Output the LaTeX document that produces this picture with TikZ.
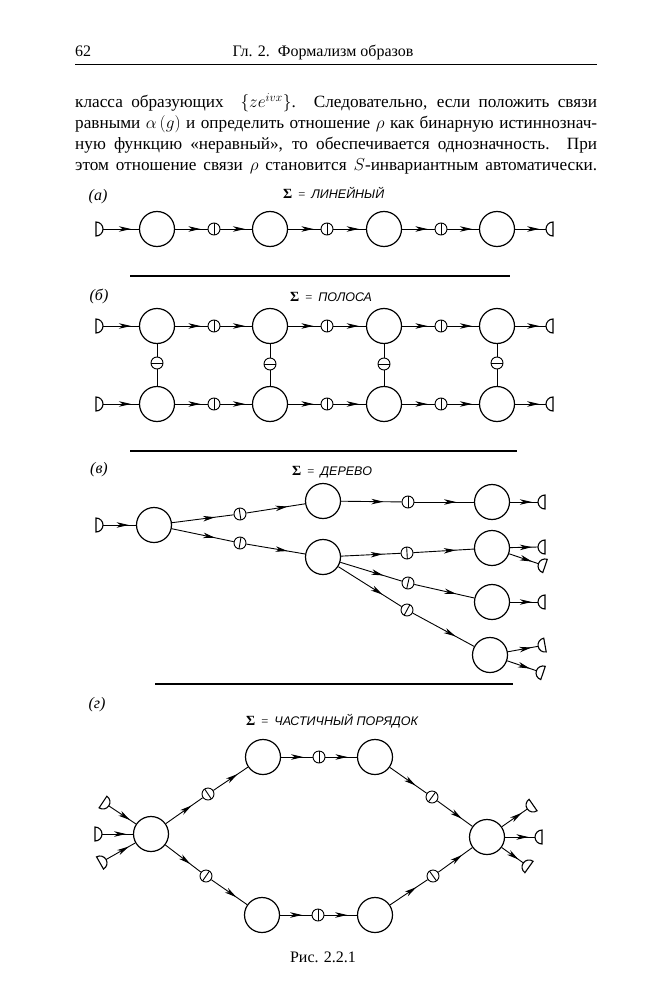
\documentclass[tikz,border=0pt]{standalone}
\usepackage{fontspec}
\setmainfont{Liberation Serif}
\newfontfamily\lblfont{Liberation Sans}
\usetikzlibrary{arrows.meta,decorations.markings,calc}
\tikzset{
  big/.style={circle,draw,line width=1.2pt,minimum size=35pt,inner sep=0pt},
  lk/.style={circle,draw,line width=0.9pt,minimum size=12pt,inner sep=0pt},
  conn/.style={line width=0.9pt,postaction={decorate},decoration={markings,mark=at position #1 with {\arrow{Stealth[length=12pt,width=5.5pt,inset=3.5pt]}}}},
  conn/.default=0.78,
  bond/.style={line width=0.9pt},
  capd/.style={line width=1.1pt},
  sep/.style={line width=1.6pt},
  body/.style={anchor=base west,inner sep=0pt,font=\fontsize{17.2}{20}\selectfont},
  hdr/.style={anchor=base,inner sep=0pt,font=\fontsize{16}{18}\selectfont},
  tag/.style={inner sep=0pt,font=\fontsize{16}{18}\selectfont\itshape},
  sig/.style={anchor=base west,inner sep=0pt,font=\fontsize{12.5}{14}\selectfont},
}
\newcommand\capD[3]{\coordinate (#1) at (#2);
  \draw[capd,shift={(#2)},rotate={-1*(#3)}] (-7,7) arc[start angle=90,end angle=-90,radius=7] -- cycle;}
\newcommand\lnk[3]{\node[lk] (#1) at (#2) {};
  \draw[bond] ($(#1)!6pt!90:(#3)$) -- ($(#1)!6pt!-90:(#3)$);}
\newcommand\sigl[1]{{\fontsize{14}{14}\selectfont\textbf{Σ}}\hspace{6pt}=\hspace{6pt}{\lblfont\itshape #1}}
\begin{document}
\begin{tikzpicture}[x=1pt,y=-1pt]
\useasboundingbox (0,0) rectangle (656,1000);
\fill[white] (0,0) rectangle (656,1000);
% header
\node[hdr,anchor=base west] (pg) at (75,57) {62};
\node[hdr] (rh) at (323,57) {Гл. 2.\enspace Формализм образов};
\draw[line width=0.9pt] (75,64) -- (597,64);
% body text
\node[body] (t1) at (75,108) {\makebox[522pt][s]{класса образующих \ $\{ze^{ivx}\}$. Следовательно, если положить связи}};
\node[body] (t2) at (75,129) {\makebox[522pt][s]{равными $\alpha\,(g)$ и определить отношение $\rho$ как бинарную истиннознач-}};
\node[body] (t3) at (75,150) {\makebox[522pt][s]{ную функцию «неравный», то обеспечивается однозначность. При}};
\node[body] (t4) at (75,171) {\makebox[522pt][s]{этом отношение связи $\rho$ становится $S$-инвариантным автоматически.}};
% ---------- (a)
\node[tag] (ta) at (98,197) {(а)};
\node[sig] (sa) at (283,199) {\sigl{ЛИНЕЙНЫЙ}};
\node[big] (a1) at (157,229) {};
\node[big] (a2) at (270,229) {};
\node[big] (a3) at (384,229) {};
\node[big] (a4) at (497,229) {};
\lnk{al1}{214,229}{a2}
\lnk{al2}{327,229}{a3}
\lnk{al3}{441,229}{a4}
\capD{as}{103,229}{0}
\capD{at}{546,229}{180}
\draw[conn] (as) -- (a1);
\draw[conn] (a1) -- (al1);
\draw[conn] (al1) -- (a2);
\draw[conn] (a2) -- (al2);
\draw[conn] (al2) -- (a3);
\draw[conn] (a3) -- (al3);
\draw[conn] (al3) -- (a4);
\draw[conn] (a4) -- (at);
\draw[sep] (130,276) -- (510,276);
% ---------- (b)
\node[tag] (tb) at (99,296) {(б)};
\node[sig] (sb) at (290,301) {\sigl{ПОЛОСА}};
\foreach \i/\x in {1/157,2/270,3/384,4/497}{
  \node[big] (b\i) at (\x,326) {};
  \node[big] (c\i) at (\x,404) {};
}
\lnk{bl1}{214,326}{b2}
\lnk{bl2}{327,326}{b3}
\lnk{bl3}{441,326}{b4}
\lnk{cl1}{214,404}{c2}
\lnk{cl2}{327,404}{c3}
\lnk{cl3}{441,404}{c4}
\lnk{vl1}{157,363}{c1}
\lnk{vl2}{270,364}{c2}
\lnk{vl3}{384,364}{c3}
\lnk{vl4}{497,363}{c4}
\capD{bs}{103,326}{0}
\capD{bt}{546,326}{180}
\capD{cs}{103,404}{0}
\capD{ct}{546,404}{180}
\draw[conn] (bs) -- (b1);
\draw[conn] (b1) -- (bl1);
\draw[conn] (bl1) -- (b2);
\draw[conn] (b2) -- (bl2);
\draw[conn] (bl2) -- (b3);
\draw[conn] (b3) -- (bl3);
\draw[conn] (bl3) -- (b4);
\draw[conn] (b4) -- (bt);
\draw[conn] (cs) -- (c1);
\draw[conn] (c1) -- (cl1);
\draw[conn] (cl1) -- (c2);
\draw[conn] (c2) -- (cl2);
\draw[conn] (cl2) -- (c3);
\draw[conn] (c3) -- (cl3);
\draw[conn] (cl3) -- (c4);
\draw[conn] (c4) -- (ct);
\foreach \i in {1,2,3,4}{
  \draw[bond] (b\i) -- (vl\i);
  \draw[bond] (vl\i) -- (c\i);
}
\draw[sep] (130,451) -- (517,451);
% ---------- (v) tree
\node[tag] (tv) at (99,470) {(в)};
\node[sig] (sv) at (292,475) {\sigl{ДЕРЕВО}};
\node[big] (v0) at (154,525) {};
\node[big] (vu) at (323,501) {};
\node[big] (vl) at (323,557) {};
\node[big] (vuu) at (492,502) {};
\node[big] (va) at (492,548) {};
\node[big] (vb) at (492,602) {};
\node[big] (vc) at (490,655) {};
\lnk{vs1}{240,514}{vu}
\lnk{vs2}{240,543}{vl}
\lnk{vs3}{408,502}{vuu}
\lnk{vs4}{407,553}{va}
\lnk{vs5}{408,583}{vb}
\lnk{vs6}{407,610}{vc}
\capD{vsrc}{103,525}{0}
\capD{vt1}{538,502}{180}
\capD{vt2}{538,547}{180}
\capD{vt3}{538.4,563.7}{198.8}
\capD{vt4}{538,602}{180}
\capD{vt5}{538.1,646.3}{169.7}
\capD{vt6}{536.4,670.7}{198.8}
\draw[conn] (vsrc) -- (v0);
\draw[conn=0.7] (v0) -- (vs1);
\draw[conn=0.7] (vs1) -- (vu);
\draw[conn=0.7] (v0) -- (vs2);
\draw[conn=0.7] (vs2) -- (vl);
\draw[conn=0.7] (vu) -- (vs3);
\draw[conn=0.7] (vs3) -- (vuu);
\draw[conn=0.7] (vl) -- (vs4);
\draw[conn=0.7] (vs4) -- (va);
\draw[conn=0.7] (vl) -- (vs5);
\draw[conn=0.7] (vs5) -- (vb);
\draw[conn=0.7] (vl) -- (vs6);
\draw[conn=0.7] (vs6) -- (vc);
\draw[conn] (vuu) -- (vt1);
\draw[conn] (va) -- (vt2);
\draw[conn] (va) -- (vt3);
\draw[conn] (vb) -- (vt4);
\draw[conn] (vc) -- (vt5);
\draw[conn] (vc) -- (vt6);
\draw[sep] (155,684) -- (513,684);
% ---------- (g) partial order
\node[tag] (tg) at (97,705) {(г)};
\node[sig] (sg) at (246,725) {\sigl{ЧАСТИЧНЫЙ ПОРЯДОК}};
\node[big] (gl) at (151,834) {};
\node[big] (gr) at (487,837) {};
\node[big] (g1) at (263,757) {};
\node[big] (g2) at (375,757) {};
\node[big] (g3) at (262,915) {};
\node[big] (g4) at (375,915) {};
\lnk{gs1}{208,794}{g1}
\lnk{gs2}{319,757}{g2}
\lnk{gs3}{432,797}{gr}
\lnk{gs4}{206,876}{g3}
\lnk{gs5}{318,915}{g4}
\lnk{gs6}{433,876}{gr}
\capD{gi1}{108.8,805.9}{33.7}
\capD{gi2}{102,834}{0}
\capD{gi3}{106.1,859.5}{-29.6}
\capD{go1}{527.3,809}{145.2}
\capD{go2}{535,837}{180}
\capD{go3}{523.3,862.9}{215.5}
\draw[conn] (gi1) -- (gl);
\draw[conn] (gi2) -- (gl);
\draw[conn] (gi3) -- (gl);
\draw[conn=0.7] (gl) -- (gs1);
\draw[conn=0.7] (gs1) -- (g1);
\draw[conn=0.7] (g1) -- (gs2);
\draw[conn=0.7] (gs2) -- (g2);
\draw[conn=0.7] (g2) -- (gs3);
\draw[conn=0.7] (gs3) -- (gr);
\draw[conn=0.7] (gl) -- (gs4);
\draw[conn=0.7] (gs4) -- (g3);
\draw[conn=0.7] (g3) -- (gs5);
\draw[conn=0.7] (gs5) -- (g4);
\draw[conn=0.7] (g4) -- (gs6);
\draw[conn=0.7] (gs6) -- (gr);
\draw[conn] (gr) -- (go1);
\draw[conn] (gr) -- (go2);
\draw[conn] (gr) -- (go3);
% caption
\node[hdr] (cap) at (323,962) {Рис. 2.2.1};
\end{tikzpicture}
\end{document}
